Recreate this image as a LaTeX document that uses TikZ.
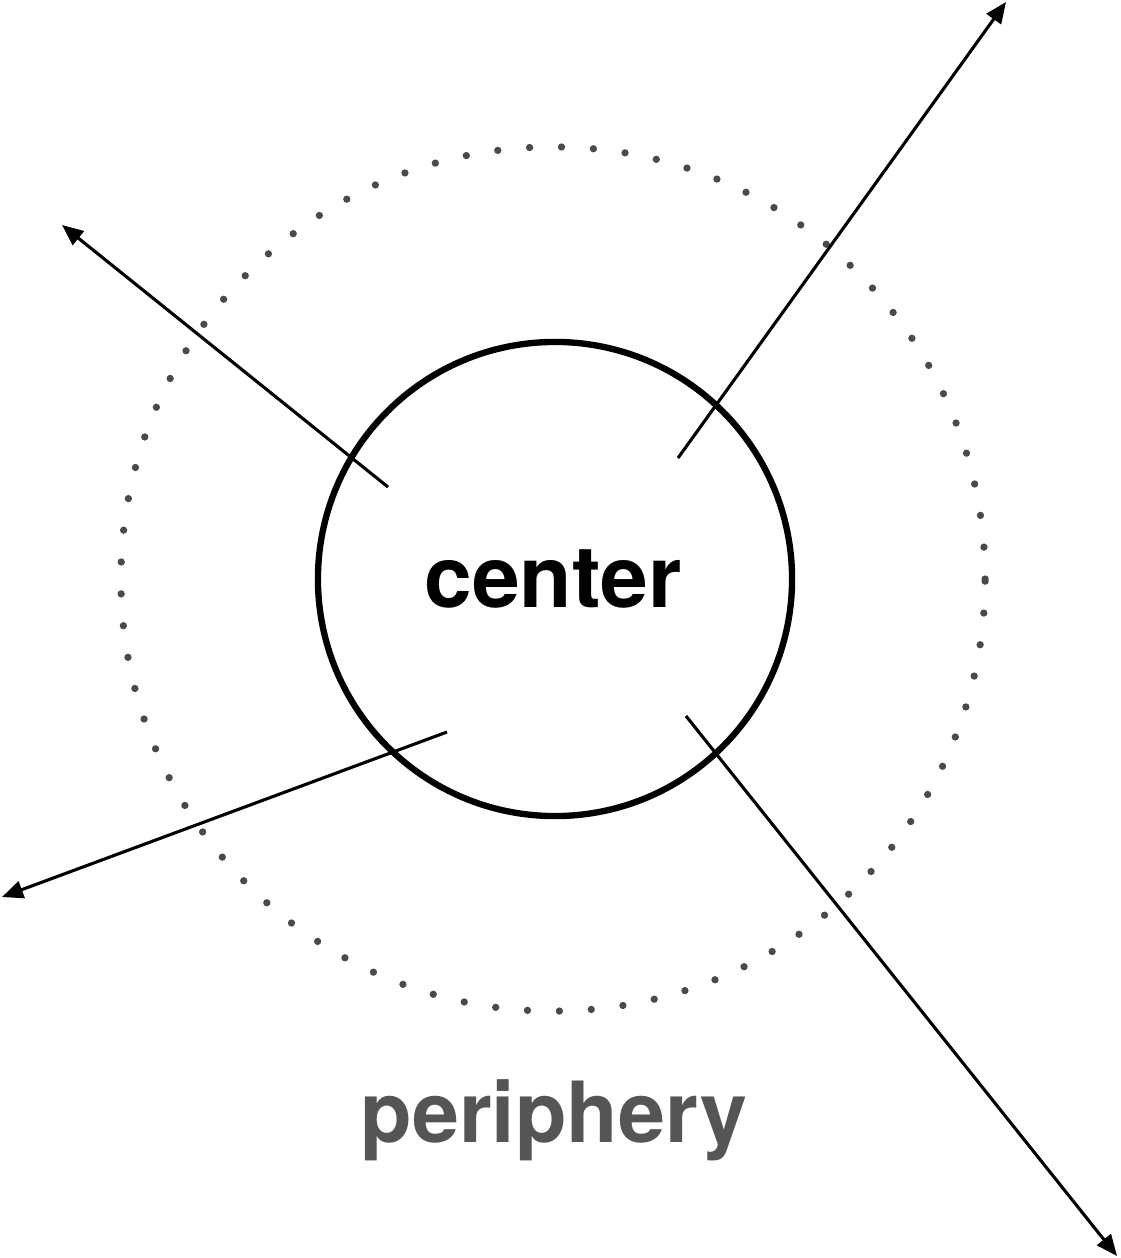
\documentclass[tikz,border=0pt]{standalone}
\usepackage{fontspec}
\setsansfont{TeX Gyre Heros}
\usepackage{xcolor}
\usepackage{tikz}
\usetikzlibrary{calc,positioning,arrows.meta}

\definecolor{dotgray}{HTML}{4A4A4A}
\definecolor{labelgray}{HTML}{555555}

\tikzset{
  ray/.style={
    black,
    line width=2.2pt,
    -{Triangle[length=15pt,width=12.5pt]}
  }
}

\begin{document}
\begin{tikzpicture}[x=0.025cm,y=-0.025cm]
    \useasboundingbox (0,0) rectangle (1120,1258);
    \node[
      circle,
      draw=dotgray,
      line width=5.2pt,
      line cap=round,
      dash pattern=on 0pt off 22.7pt,
      minimum size=21.6cm,
      inner sep=0pt
    ] (periph) at (553,579) {};
    \node[
      circle,
      draw=black,
      line width=4.5pt,
      minimum size=11.85cm,
      inner sep=0pt
    ] (core) at (555,579) {};
    \node[
      text=black,
      font=\sffamily\bfseries\fontsize{61}{70}\selectfont,
      inner sep=0pt,
      anchor=base
    ] (coretxt) at (553,607) {center};
    \node[
      text=labelgray,
      font=\sffamily\bfseries\fontsize{60}{70}\selectfont,
      inner sep=0pt,
      anchor=base
    ] (periphtxt) at (554,1142) {periphery};
    \coordinate (nwfrom) at (388,487);
    \coordinate (nwto) at (62,225);
    \coordinate (nefrom) at (678,458);
    \coordinate (neto) at (1006,2);
    \coordinate (swfrom) at (447,732);
    \coordinate (swto) at (2,897);
    \coordinate (sefrom) at (686,716);
    \coordinate (seto) at (1117,1256);
    \draw[ray] (nwfrom) -- (nwto);
    \draw[ray] (nefrom) -- (neto);
    \draw[ray] (swfrom) -- (swto);
    \draw[ray] (sefrom) -- (seto);
  \end{tikzpicture}
\end{document}
